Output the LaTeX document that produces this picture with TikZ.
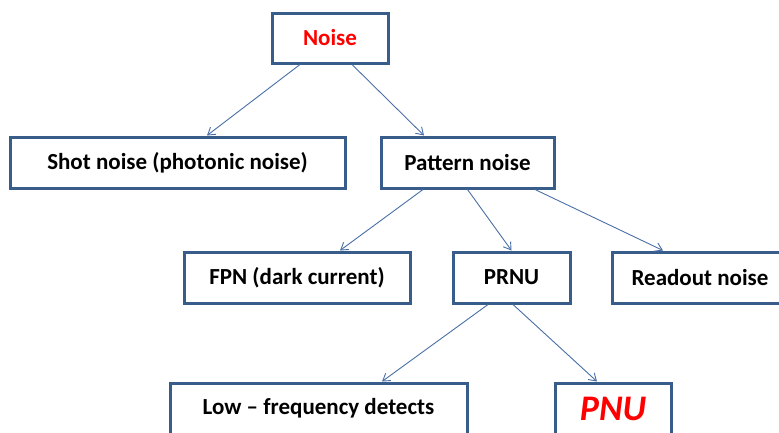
\documentclass[tikz,border=0pt]{standalone}
\usepackage{fontspec}
\setmainfont{Carlito}
\usetikzlibrary{arrows.meta}
\definecolor{boxblue}{HTML}{385D8A}
\definecolor{lineblue}{HTML}{4A6FA5}
\begin{document}
\begin{tikzpicture}[x=1pt,y=-1pt,
  box/.style={draw=boxblue,line width=3pt,fill=white,inner sep=0pt,minimum height=51pt,
    font=\fontsize{23}{27}\selectfont\bfseries},
  link/.style={draw=lineblue,line width=0.9pt,-{Straight Barb[length=7pt,width=9pt]}}]
\clip (0,0) rectangle (779,432);

\node[box,minimum width=116pt,minimum height=50pt,text=red] (noise) at (330,38) {Noise};
\node[box,minimum width=335pt] (shot) at (177.5,162.5) {Shot noise (photonic noise)};
\node[box,minimum width=173pt] (pattern) at (467.5,162.5) {Pattern noise};
\node[box,minimum width=226pt] (fpn) at (297,277.5) {FPN (dark current)};
\node[box,minimum width=117pt] (prnu) at (511.5,277.5) {PRNU};
\node[box,minimum width=176pt] (readout) at (700,277.5) {Readout noise};
\node[box,minimum width=297pt] (low) at (318.5,408.5) {Low -- frequency detects};
\node[box,minimum width=116pt,text=red,font=\fontsize{36}{40}\selectfont\bfseries\itshape] (pnu) at (613,408.5) {PNU};

\draw[link] ([xshift=-30pt]noise.south) -- ([xshift=29.5pt]shot.north);
\draw[link] ([xshift=22pt]noise.south) -- ([xshift=-43.5pt]pattern.north);
\draw[link] ([xshift=-44.5pt]pattern.south) -- ([xshift=43pt]fpn.north);
\draw[link] (pattern.south) -- (prnu.north);
\draw[link] ([xshift=67.5pt]pattern.south) -- ([xshift=-37pt]readout.north);
\draw[link] ([xshift=-23.5pt]prnu.south) -- ([xshift=63.5pt]low.north);
\draw[link] ([xshift=1.5pt]prnu.south) -- ([xshift=-16pt]pnu.north);
\end{tikzpicture}
\end{document}
